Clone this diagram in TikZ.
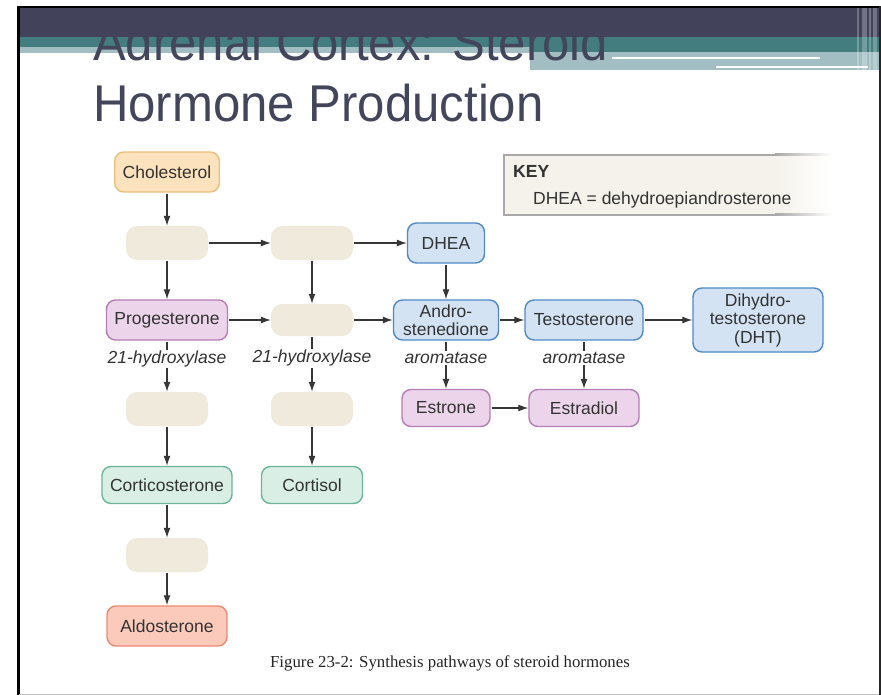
\documentclass[tikz,border=0pt]{standalone}
\usepackage{fontspec}
\setmainfont{Liberation Sans}
\newfontfamily\titlefont[FakeStretch=0.95]{Liberation Sans}
\newfontfamily\capfont{Liberation Serif}
\usetikzlibrary{arrows.meta}
\definecolor{bandDark}{HTML}{42435A}
\definecolor{bandTeal}{HTML}{437D80}
\definecolor{bandLight}{HTML}{A2BEC2}
\definecolor{titleInk}{HTML}{43455B}
\definecolor{textInk}{HTML}{333333}
\definecolor{arrowInk}{HTML}{363636}
\definecolor{blankFill}{HTML}{EFEADB}
\definecolor{orangeFill}{HTML}{FCE3BD}
\definecolor{orangeLine}{HTML}{E9BF7E}
\definecolor{blueFill}{HTML}{D3E3F3}
\definecolor{blueLine}{HTML}{4F8AC6}
\definecolor{purpleFill}{HTML}{ECD5EA}
\definecolor{purpleLine}{HTML}{B67CB5}
\definecolor{greenFill}{HTML}{D9EFE5}
\definecolor{greenLine}{HTML}{6DB59B}
\definecolor{salmonFill}{HTML}{FCCABB}
\definecolor{salmonLine}{HTML}{EC8A74}
\definecolor{keyFill}{HTML}{F4F2EA}
\definecolor{keyLine}{HTML}{A8A8A8}
\tikzset{
  hormone/.style={draw, rounded corners=9pt, line width=1.4pt, minimum height=40pt,
    inner xsep=8pt, inner ysep=2pt, align=center, text=textInk,
    font=\fontsize{17.5}{18.5}\selectfont},
  orangebox/.style={fill=orangeFill, draw=orangeLine},
  bluebox/.style={fill=blueFill, draw=blueLine},
  purplebox/.style={fill=purpleFill, draw=purpleLine},
  greenbox/.style={fill=greenFill, draw=greenLine},
  salmonbox/.style={fill=salmonFill, draw=salmonLine},
  blank/.style={fill=blankFill, rounded corners=11pt, minimum width=82pt, minimum height=34pt},
  arr/.style={-{Latex[length=10pt,width=7pt]}, line width=1.2pt, draw=arrowInk, shorten <=1pt},
  enzyme/.style={fill=white, inner sep=1pt, text=textInk,
    font=\fontsize{17.5}{18}\selectfont\itshape},
  keytext/.style={anchor=base west, inner sep=0pt, text=textInk, font=\fontsize{17.5}{18}\selectfont}
}
\begin{document}
\begin{tikzpicture}[x=1pt,y=-1pt]
\useasboundingbox (0,0) rectangle (881,695);
\fill[white] (0,0) rectangle (881,695);
% header bands
\fill[bandTeal] (19,37) rectangle (879,47);
\fill[bandTeal] (530,37) rectangle (879,52);
\fill[bandLight] (19,47) rectangle (530,53);
\fill[bandLight] (530,52) rectangle (879,70);
\fill[white] (612,57) rectangle (820,59);
\fill[white] (716,66) rectangle (868,68);
\node[anchor=base west, inner sep=0pt, text=titleInk, font=\titlefont\fontsize{51.7}{60}\selectfont]
  (title1) at (93,61) {Adrenal Cortex: Steroid};
\node[anchor=base west, inner sep=0pt, text=titleInk, font=\titlefont\fontsize{51.7}{60}\selectfont]
  (title2) at (93,122) {Hormone Production};
\fill[bandDark] (19,8) rectangle (879,37);
\foreach \xa/\xb in {857/859,862/867,869/871,873/877}{
  \fill[white,opacity=0.25] (\xa,8) rectangle (\xb,70);
}
% frame
\fill[black] (17,6) rectangle (19.5,695);
\fill[black] (17,6) rectangle (881,8.5);
\fill[black!85] (879,6) rectangle (881,695);
\draw[black!25, line width=1pt] (19,694.5) -- (879,694.5);
% key
\fill[keyFill] (503,154) rectangle (775,216);
\shade[left color=keyFill, right color=white] (775,154) rectangle (832,216);
\draw[keyLine, line width=2pt] (775,155) -- (504,155) -- (504,215) -- (775,215);
\shade[left color=keyLine, right color=white] (775,154) rectangle (832,156);
\shade[left color=keyLine, right color=white] (775,214) rectangle (832,216);
\node[keytext, font=\fontsize{17.5}{18}\selectfont\bfseries] (keyhead) at (513,178) {KEY};
\node[keytext] (keyentry) at (533,205) {DHEA = dehydroepiandrosterone};
% hormones
\node[hormone, orangebox, minimum width=104pt] (chol) at (167,172) {Cholesterol};
\node[blank] (b1) at (167,243) {};
\node[blank] (b2) at (312,243) {};
\node[hormone, bluebox, minimum width=77pt] (dhea) at (446,243) {DHEA};
\node[hormone, purplebox, minimum width=118pt] (prog) at (167,320) {Progesterone};
\node[blank, minimum height=32pt] (b4) at (312,320) {};
\node[hormone, bluebox, minimum width=105pt] (andro) at (446,320) {Andro-\\stenedione};
\node[hormone, bluebox, minimum width=118pt] (testo) at (584,320) {Testosterone};
\node[hormone, bluebox, minimum width=130pt, minimum height=64pt] (dht) at (758,320) {Dihydro-\\testosterone\\(DHT)};
\node[blank] (b3) at (167,409) {};
\node[blank] (b5) at (312,409) {};
\node[hormone, purplebox, minimum width=88pt, minimum height=37pt] (estrone) at (446,408) {Estrone};
\node[hormone, purplebox, minimum width=110pt, minimum height=37pt] (estradiol) at (584,408) {Estradiol};
\node[hormone, greenbox, minimum width=130pt, minimum height=37pt] (cortico) at (167,485) {Corticosterone};
\node[hormone, greenbox, minimum width=101pt, minimum height=37pt] (cortisol) at (312,485) {Cortisol};
\node[blank] (b6) at (167,555) {};
\node[hormone, salmonbox, minimum width=120pt] (aldo) at (167,626) {Aldosterone};
% pathways
\draw[arr] (chol) -- (b1);
\draw[arr] (b1) -- (b2);
\draw[arr] (b2) -- (dhea);
\draw[arr] (b1) -- (prog);
\draw[arr] (b2) -- (b4);
\draw[arr] (dhea) -- (andro);
\draw[arr] (prog) -- (b4);
\draw[arr] (b4) -- (andro);
\draw[arr] (andro) -- (testo);
\draw[arr] (testo) -- (dht);
\draw[arr] (prog) -- node[enzyme, pos=0.36] (hyd1) {21-hydroxylase} (b3);
\draw[arr] (b4) -- node[enzyme, pos=0.4] (hyd2) {21-hydroxylase} (b5);
\draw[arr] (andro) -- node[enzyme, pos=0.36] (arom1) {aromatase} (estrone);
\draw[arr] (testo) -- node[enzyme, pos=0.36] (arom2) {aromatase} (estradiol);
\draw[arr] (estrone) -- (estradiol);
\draw[arr] (b3) -- (cortico);
\draw[arr] (b5) -- (cortisol);
\draw[arr] (cortico) -- (b6);
\draw[arr] (b6) -- (aldo);
% caption
\node[anchor=base, inner sep=0pt, text=black!85, font=\capfont\fontsize{16.8}{18}\selectfont]
  (caption) at (450,667) {Figure 23-2: Synthesis pathways of steroid hormones};
\end{tikzpicture}
\end{document}
